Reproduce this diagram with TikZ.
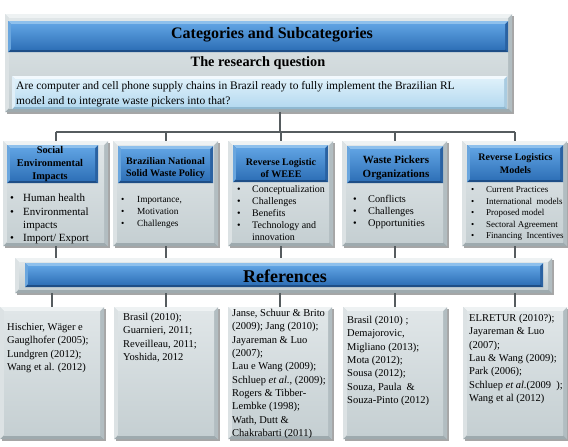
\documentclass[tikz,border=0pt]{standalone}
\usepackage{fontspec}
\setmainfont{Liberation Serif}
\usetikzlibrary{shadows}
\definecolor{gT}{HTML}{EEF2F3}\definecolor{gL}{HTML}{DCE2E4}
\definecolor{gB}{HTML}{9EAAAE}\definecolor{gR}{HTML}{B2BDC1}
\definecolor{gF1}{HTML}{E0E6E8}\definecolor{gF2}{HTML}{C5CFD2}
\definecolor{bT}{HTML}{8EC0EC}\definecolor{bL}{HTML}{6AA6DE}
\definecolor{bB}{HTML}{1E4E86}\definecolor{bR}{HTML}{2A62A2}
\definecolor{bF1}{HTML}{5FA2E2}\definecolor{bF2}{HTML}{2F71B8}
\definecolor{qT}{HTML}{F2F9FD}\definecolor{qL}{HTML}{E0EFF8}
\definecolor{qB}{HTML}{8FB8D0}\definecolor{qR}{HTML}{A9CBE0}
\definecolor{qF1}{HTML}{DDF0FA}\definecolor{qF2}{HTML}{B6DAF0}
\definecolor{lnk}{HTML}{565C5F}
\newcommand\bevelpaint[7]{%
 \coordinate (pNW) at (path picture bounding box.north west);
 \coordinate (pNE) at (path picture bounding box.north east);
 \coordinate (pSW) at (path picture bounding box.south west);
 \coordinate (pSE) at (path picture bounding box.south east);
 \coordinate (qNW) at ([shift={(#1,-#1)}]pNW);
 \coordinate (qNE) at ([shift={(-#1,-#1)}]pNE);
 \coordinate (qSW) at ([shift={(#1,#1)}]pSW);
 \coordinate (qSE) at ([shift={(-#1,#1)}]pSE);
 \fill[#2] (pNW)--(pNE)--(qNE)--(qNW)--cycle;
 \fill[#3] (pNW)--(qNW)--(qSW)--(pSW)--cycle;
 \fill[#4] (pSW)--(qSW)--(qSE)--(pSE)--cycle;
 \fill[#5] (pNE)--(pSE)--(qSE)--(qNE)--cycle;
 \shade[top color=#6,bottom color=#7] (qNW) rectangle (qSE);
}
\newcommand\bul[1]{\makebox[#1][l]{•}}
\tikzset{
 shad/.style={drop shadow={shadow xshift=1.5pt,shadow yshift=-1.5pt,opacity=0.35,fill=black}},
 gbox/.style={rectangle,inner sep=0,draw=none,fill=gF2,anchor=north west,shad,
   path picture={\bevelpaint{4pt}{gT}{gL}{gB}{gR}{gF1}{gF2}}},
 bbox/.style={rectangle,inner sep=0,draw=none,fill=bF2,anchor=north west,
   path picture={\bevelpaint{3pt}{bT}{bL}{bB}{bR}{bF1}{bF2}}},
 qbox/.style={rectangle,inner sep=0,draw=none,fill=qF2,anchor=north west,
   path picture={\bevelpaint{3pt}{qT}{qL}{qB}{qR}{qF1}{qF2}}},
 htext/.style={align=center,inner sep=0,font=\bfseries\fontsize{10}{12.5}\selectfont},
 ltext/.style={align=left,inner sep=0,anchor=north west},
 rtext/.style={ltext,font=\fontsize{10.5}{13.3}\selectfont},
 link/.style={draw=lnk,line width=1.6pt}
}
\begin{document}
\begin{tikzpicture}[x=1pt,y=-1pt]
\useasboundingbox (0,0) rectangle (568,447);
% top frame
\node[gbox,minimum width=507pt,minimum height=98pt] (tframe) at (5,14) {};
\node[bbox,minimum width=500pt,minimum height=31pt] (tbanner) at (8,21) {};
\node[inner sep=0,font=\bfseries\fontsize{16}{18}\selectfont] (ttitle) at (272,35) {Categories and Subcategories};
\node[inner sep=0,font=\bfseries\fontsize{14.3}{16}\selectfont] (tsub) at (258,63) {The research question};
\node[qbox,minimum width=495pt,minimum height=33pt] (qbox) at (12,76) {};
\node[ltext,font=\fontsize{11.5}{15}\selectfont] (qtext) at (16,81.5) {Are computer and cell phone supply chains in Brazil ready to fully implement the Brazilian RL\\model and to integrate waste pickers into that?};
% category boxes
\node[gbox,minimum width=105pt,minimum height=105pt] (c1) at (3,141) {};
\node[gbox,minimum width=105pt,minimum height=105pt] (c2) at (113,141) {};
\node[gbox,minimum width=105pt,minimum height=105pt] (c3) at (228,141) {};
\node[gbox,minimum width=105pt,minimum height=105pt] (c4) at (342,141) {};
\node[gbox,minimum width=105pt,minimum height=105pt] (c5) at (462,141) {};
\node[bbox,minimum width=91pt,minimum height=38pt] (h1) at (7,145) {};
\node[bbox,minimum width=95pt,minimum height=37pt] (h2) at (118,146) {};
\node[bbox,minimum width=95pt,minimum height=37pt] (h3) at (233,145) {};
\node[bbox,minimum width=96pt,minimum height=37pt] (h4) at (347,146) {};
\node[bbox,minimum width=96pt,minimum height=37pt] (h5) at (467,145) {};
\node[htext,font=\bfseries\fontsize{10.3}{12.7}\selectfont] (h1t) at (50,164) {Social\\Environmental\\Impacts};
\node[htext] (h2t) at (165.5,168) {Brazilian National\\Solid Waste Policy};
\node[htext] (h3t) at (281,168) {Reverse Logistic\\of WEEE};
\node[htext,font=\bfseries\fontsize{11}{14}\selectfont] (h4t) at (396,168) {Waste Pickers\\Organizations};
\node[htext,font=\bfseries\fontsize{10}{13}\selectfont] (h5t) at (515.5,163.5) {Reverse Logistics\\Models};
\node[ltext,font=\fontsize{11}{13.2}\selectfont] (l1) at (10,194) {\bul{13pt}Human health\\\bul{13pt}Environmental\\\hspace*{13pt}impacts\\\bul{13pt}Import/ Export};
\node[ltext,font=\fontsize{9.3}{12}\selectfont] (l2) at (121,196.6) {\bul{16pt}Importance,\\\bul{16pt}Motivation\\\bul{16pt}Challenges};
\node[ltext,font=\fontsize{10}{12}\selectfont] (l3) at (237,185.4) {\bul{15pt}Conceptualization\\\bul{15pt}Challenges\\\bul{15pt}Benefits\\\bul{15pt}Technology and\\\hspace*{15pt}innovation};
\node[ltext,font=\fontsize{10.3}{12}\selectfont] (l4) at (353,195.3) {\bul{15pt}Conflicts\\\bul{15pt}Challenges\\\bul{15pt}Opportunities};
\node[ltext,font=\fontsize{9}{11.5}\selectfont] (l5) at (471,186.8) {\bul{15pt}Current Practices\\\bul{15pt}International\ \ models\\\bul{15pt}Proposed model\\\bul{15pt}Sectoral Agreement\\\bul{15pt}Financing\ \ Incentives};
% references banner
\node[gbox,minimum width=537pt,minimum height=35pt] (rf) at (15,258) {};
\node[bbox,minimum width=518pt,minimum height=24pt] (rfb) at (25,263) {};
\node[inner sep=0,font=\bfseries\fontsize{18}{20}\selectfont] (rft) at (285,276) {References};
% reference boxes
\node[gbox,minimum width=104pt,minimum height=132pt] (r1) at (0,307) {};
\node[gbox,minimum width=104pt,minimum height=132pt] (r2) at (114,307) {};
\node[gbox,minimum width=104pt,minimum height=132pt] (r3) at (228,307) {};
\node[gbox,minimum width=104pt,minimum height=132pt] (r4) at (343,307) {};
\node[gbox,minimum width=104pt,minimum height=132pt] (r5) at (463,307) {};
\node[rtext] (r1t) at (7,323.2) {Hischier, Wäger e\\Gauglhofer (2005);\\Lundgren (2012);\\Wang et al. (2012)};
\node[rtext] (r2t) at (123,313.2) {Brasil (2010);\\Guarnieri, 2011;\\Reveilleau,\ 2011;\\Yoshida, 2012};
\node[rtext] (r3t) at (232,309.2) {Janse, Schuur \& Brito\\(2009);\ Jang (2010);\\Jayareman \& Luo\\(2007);\\Lau e Wang (2009);\\Schluep \textit{et al.}, (2009);\\Rogers \& Tibber-\\Lembke (1998);\\Wath, Dutt \&\\Chakrabarti (2011)};
\node[rtext] (r4t) at (347,316.2) {Brasil (2010) ;\\Demajorovic,\\Migliano\ (2013);\\Mota (2012);\\Sousa (2012);\\Souza, Paula\ \ \&\\Souza-Pinto (2012)};
\node[rtext] (r5t) at (469,314.2) {ELRETUR (2010?);\\Jayareman \& Luo\\(2007);\\Lau \& Wang (2009);\\Park (2006);\\Schluep \textit{et al.}(2009\ \ );\\Wang et al (2012)};
% connectors
\coordinate (hub) at (280,132);
\draw[link] (hub |- tframe.south) -- (hub);
\draw[link] (c1.north |- hub) -- (c5.north |- hub);
\foreach \i in {1,...,5}{
  \draw[link] (c\i.north |- hub) -- (c\i.north);
  \draw[link] (c\i.south) -- (c\i.south |- rf.north);
  \draw[link] (r\i.north |- rf.south) -- (r\i.north);
}
\end{tikzpicture}
\end{document}
